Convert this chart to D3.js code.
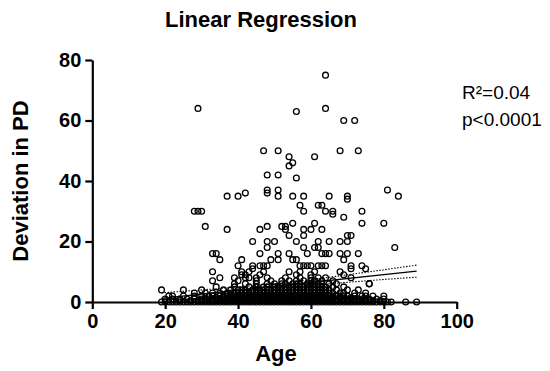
<!DOCTYPE html>
<html>
<head>
<meta charset="utf-8">
<script src="https://cdn.jsdelivr.net/npm/d3@7/dist/d3.min.js"></script>
<style>
  html, body { margin: 0; padding: 0; background: #fff; }
  svg { display: block; font-family: "Liberation Sans", Arial, sans-serif; }
</style>
</head>
<body>
<svg id="chart" width="550" height="371"></svg>
<script>
// ---------------- DATA ----------------
const xTicks = [0, 20, 40, 60, 80, 100];
const yTicks = [0, 20, 40, 60, 80];
const titleText = "Linear Regression";
const xTitle = "Age";
const yTitle = "Deviation in PD";
const statLines = ["R\u00B2=0.04", "p<0.0001"];

// scattered points: [age, deviation]
const scatterPoints = [
  [29,64],[64,75],[56,63],[64,64],[69,60],[72,60],
  [47,50],[51,50],[68,50],[73,50],
  [54,48],[61,48],[54,45],[55,46],[48,42],[51,42],[56,41],
  [37,35],[40,35],[42,36],[48,37],[48,36],[51,37],[51,35],[55,35],[58,35],[65,35],[70,35],[81,37],[84,35],[70,34],
  [28,30],[29,30],[30,30],[31,25],[37,24],[46,24],[48,25],[52,25],
  [57,32],[58,30],[62,32],[63,32],[64,30],[66,30],[66,29],[69,28],[74,30],[74,26],[80,26],
  [53,25],[55,26],[58,24],[60,24],[61,26],[63,24],[53,24],
  [54,22],[58,22],[56,20],[62,20],[65,20],[68,20],[70,22],[71,22],[70,20],[58,18],[61,18],[62,18],[83,18],
  [44,20],[48,20],[50,20],[48,18],
  [33,16],[34,16],[35,14],[41,14],[46,16],[51,16],[51,14],[49,14],
  [54,16],[59,16],[63,16],[64,16],[65,16],[68,16],[70,16],[73,16],[69,14],[55,14],[56,14],
  [40,12],[44,12],[46,12],[47,12],[48,12],[57,12],[58,12],[59,12],[60,12],[62,12],[63,12],[64,12],[71,12],[74,12],[71,11],[75,11],
  [33,10],[41,10],[43,10],[44,11],[47,10],[57,10],[68,10],[54,10],[41,9],[42,9],[69,9],
  [35,8],[39,8],[43,8],[45,8],[62,8],[71,8],[33,7],[76,6]
];

// dense low-deviation region: ages of patients at each deviation value
const dev0Ages = [19,20,21,22,23,24,25,26,27,28,29,30,31,32,33,34,35,36,37,38,39,40,41,42,43,44,45,46,47,48,49,50,
  51,52,53,54,55,56,57,58,59,60,61,62,63,64,65,66,67,68,69,70,71,72,73,74,75,76,77,78,79,80,81,82,86,89];
const dev05Ages = [24,27,29,30,31,32,33,34,35,36,37,38,39,40,41,42,43,44,45,46,47,48,49,50,
  51,52,53,54,55,56,57,58,59,60,61,62,63,64,65,66,67,68,69,70,71,72,73,74,75,76,77,79];
const dev1Ages = [20,22,24,26,28,30,31,32,33,34,35,36,37,38,39,40,41,42,43,44,45,46,47,48,49,50,
  51,52,53,54,55,56,57,58,59,60,61,62,63,64,65,66,67,68,69,70,71,72,73,74,75,76,78,80];
const dev15Ages = [34,36,38,39,40,41,42,43,44,45,46,47,48,49,50,51,52,53,54,55,56,57,58,59,60,61,62,63,64,66,68,71];
const dev2Ages = [21,22,25,28,30,32,33,35,36,37,38,39,40,41,42,43,44,45,46,47,48,49,50,
  51,52,53,54,55,56,57,58,59,60,61,62,63,64,65,66,67,68,69,70,72,74,75,77,80];
const dev3Ages = [28,31,33,35,37,38,39,40,41,42,43,44,45,46,47,48,49,50,
  51,52,53,54,55,56,57,58,59,60,61,62,63,64,65,66,68,69,72,75];
const dev4Ages = [19,25,30,36,38,40,41,42,44,45,46,47,48,49,50,51,52,53,54,55,56,57,58,59,60,61,62,63,64,65,67,70,73];
const dev5Ages = [34,39,43,45,47,48,50,51,53,54,55,56,57,58,59,60,61,62,63,64,66,69];
const dev6Ages = [39,42,45,48,50,52,53,55,56,57,59,60,61,62,63,65,67,76];
const dev7Ages = [40,45,49,52,54,56,58,60,61,63,66];
const dev8Ages = [42,48,53,57,60,64];
const dev9Ages = [46,56,60];
const dev10Ages = [61];

// regression fit and 95% confidence band
const fitAges = [19, 89];
const fitValues = [1.2, 10.2];
const bandAges = [19, 30, 40, 52, 60, 70, 80, 89];
const bandUpper = [3.0, 4.0, 4.95, 6.25, 7.4, 9.0, 10.65, 12.2];
const bandLower = [-0.6, 1.2, 2.85, 4.65, 5.5, 6.5, 7.45, 8.2];

// ---------------- BUILD ----------------
const lowRows = [
  [0, dev0Ages],[0.5, dev05Ages],[1, dev1Ages],[1.5, dev15Ages],[2, dev2Ages],[3, dev3Ages],[4, dev4Ages],
  [5, dev5Ages],[6, dev6Ages],[7, dev7Ages],[8, dev8Ages],[9, dev9Ages],[10, dev10Ages]
];
const points = [];
lowRows.forEach(([v, ages]) => ages.forEach(a => points.push({age: a, dev: v})));
scatterPoints.forEach(([a, v]) => points.push({age: a, dev: v}));

const svg = d3.select("#chart");
const x = d3.scaleLinear().domain([0, 100]).range([92.3, 456.7]);
const y = d3.scaleLinear().domain([0, 80]).range([302, 60]);

svg.append("defs").append("clipPath").attr("id", "plotClip")
  .append("rect").attr("x", x(0)).attr("y", y(80) - 5)
  .attr("width", x(100) - x(0)).attr("height", y(0) - y(80) + 5);

// points
svg.append("g").selectAll("circle").data(points).join("circle")
  .attr("cx", d => x(d.age)).attr("cy", d => y(d.dev)).attr("r", 2.9)
  .attr("fill", "none").attr("stroke", "#000").attr("stroke-width", 1.3);

// regression line
const fitData = fitAges.map((a, i) => [a, fitValues[i]]);
svg.append("path").datum(fitData)
  .attr("d", d3.line().x(d => x(d[0])).y(d => y(d[1])))
  .attr("fill", "none").attr("stroke", "#000").attr("stroke-width", 1.4);

const band = (vals) => bandAges.map((a, i) => [a, vals[i]]);
const bandLine = d3.line().curve(d3.curveMonotoneX).x(d => x(d[0])).y(d => y(d[1]));
[bandUpper, bandLower].forEach(vals => {
  svg.append("path").datum(band(vals)).attr("d", bandLine)
    .attr("clip-path", "url(#plotClip)")
    .attr("fill", "none").attr("stroke", "#000").attr("stroke-width", 1.1)
    .attr("stroke-dasharray", "1.5,1.5");
});

// axes
const xAxis = svg.append("g").attr("transform", `translate(0,${y(0)})`)
  .call(d3.axisBottom(x).tickValues(xTicks).tickSize(7).tickSizeOuter(0).tickPadding(5));
const yAxis = svg.append("g").attr("transform", `translate(${x(0)},0)`)
  .call(d3.axisLeft(y).tickValues(yTicks).tickSize(7).tickSizeOuter(0).tickPadding(4));
[xAxis, yAxis].forEach(g => {
  g.select(".domain").attr("stroke", "#000").attr("stroke-width", 2.2);
  g.selectAll(".tick line").attr("stroke", "#000").attr("stroke-width", 2.2);
  g.selectAll(".tick text").attr("fill", "#000")
    .style("font-size", "20px").style("font-weight", "bold")
    .style("font-family", "'Liberation Sans', Arial, sans-serif");
});

// titles
svg.append("text").attr("x", 261).attr("y", 27).attr("text-anchor", "middle")
  .style("font-size", "22px").style("font-weight", "bold").text(titleText);
svg.append("text").attr("x", 276).attr("y", 361).attr("text-anchor", "middle")
  .style("font-size", "22px").style("font-weight", "bold").text(xTitle);
svg.append("text").attr("transform", `translate(28,181) rotate(-90)`).attr("text-anchor", "middle")
  .style("font-size", "22px").style("font-weight", "bold").text(yTitle);

// stats
svg.append("g").selectAll("text").data(statLines).join("text")
  .attr("x", 462).attr("y", (d, i) => 99 + i * 27)
  .style("font-size", "19px").text(d => d);
</script>
</body>
</html>
